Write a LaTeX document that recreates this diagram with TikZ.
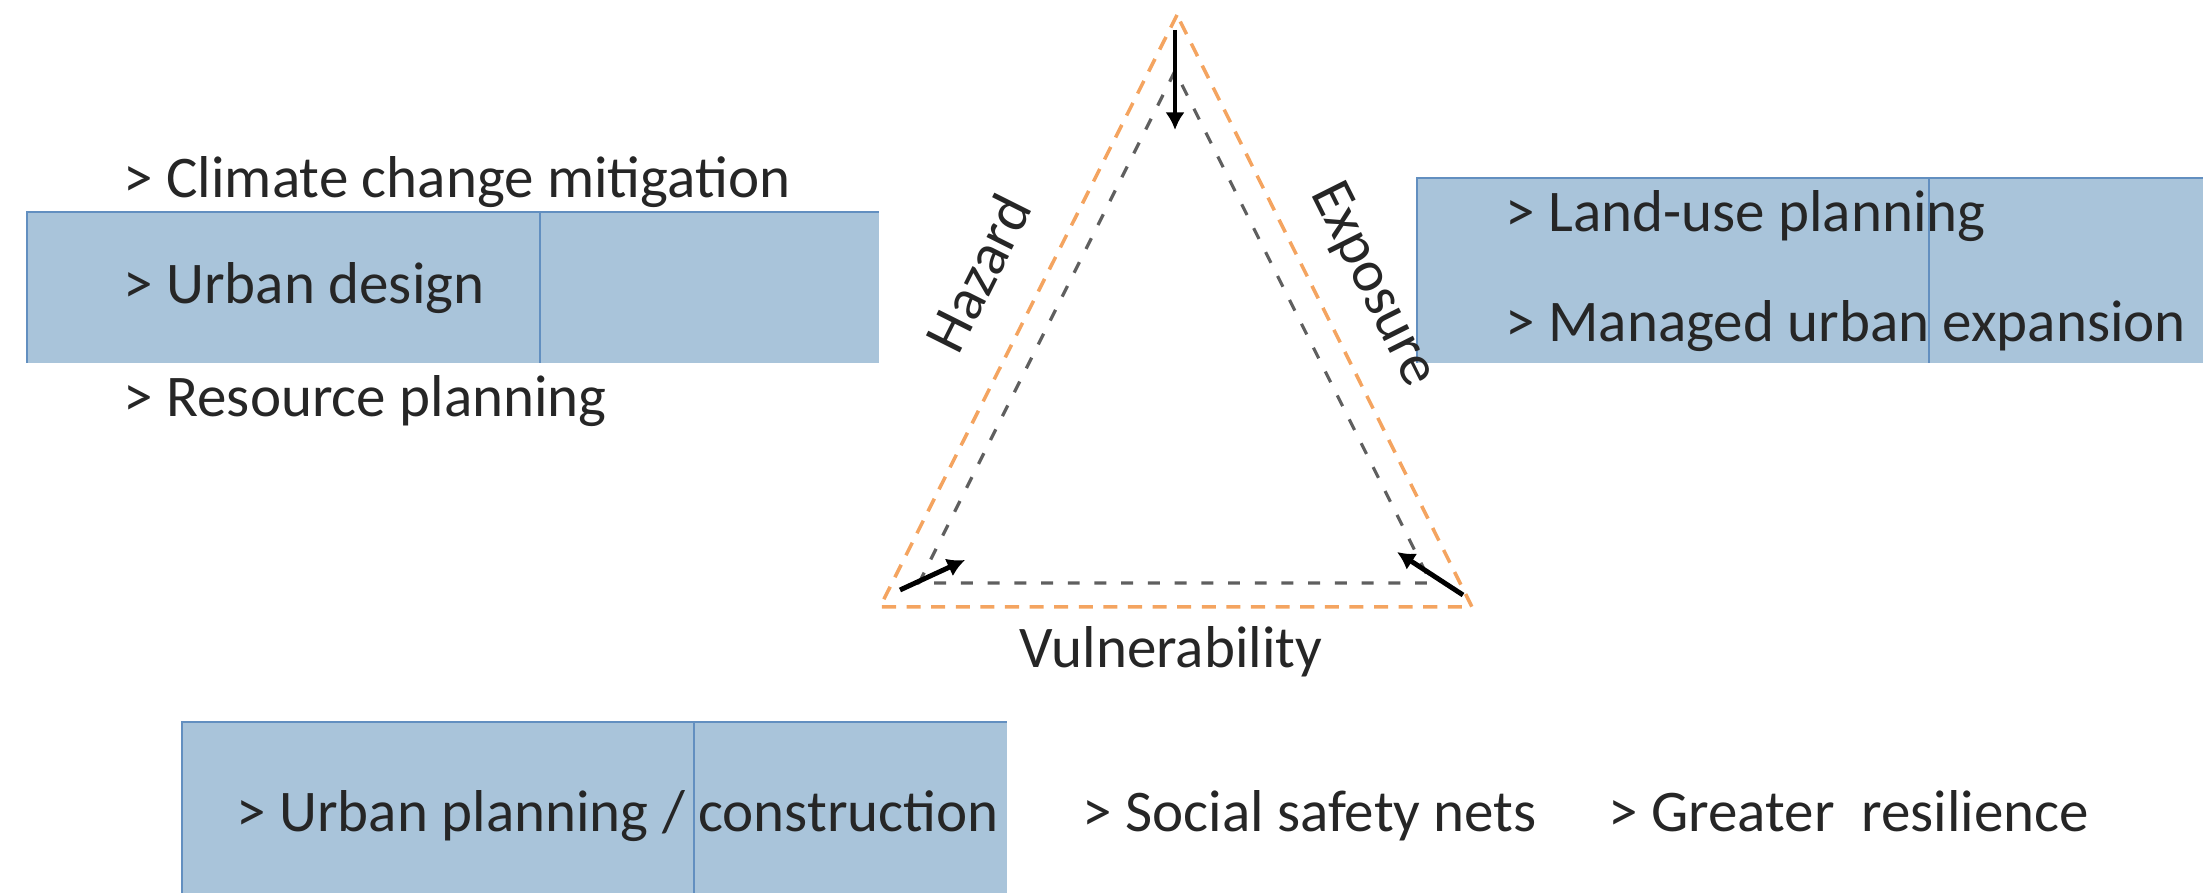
\documentclass[tikz,border=0pt]{standalone}
\usepackage{fontspec}
\setmainfont{Carlito}
\usetikzlibrary{arrows.meta}
\definecolor{boxblue}{RGB}{169,196,218}
\definecolor{edgeblue}{RGB}{98,143,192}
\definecolor{riskorange}{RGB}{244,164,96}
\definecolor{riskgray}{RGB}{95,95,95}

\begin{document}
\begin{tikzpicture}[
  > = {Latex[length=5pt, width=5.5pt]},
  thick arrow/.style = {->, line width=1.4pt},
  outer tri/.style = {riskorange, line width=1pt, dash pattern=on 4pt off 3pt},
  inner tri/.style = {riskgray, line width=0.9pt, dash pattern=on 3.4pt off 4.2pt},
  item/.style = {anchor=base west, inner sep=0pt, text=black!85, font=\fontsize{16.8}{20}\selectfont},
  side/.style = {inner sep=0pt, text=black!85, font=\fontsize{16.8}{20}\selectfont}
]
  \useasboundingbox (0,0) rectangle (22.03,8.93);

  % blue panels
  \fill[boxblue] (0.27,5.30) rectangle (8.79,6.81);
  \draw[edgeblue, line width=0.6pt] (0.27,5.30) -- (0.27,6.81) -- (8.79,6.81);
  \draw[edgeblue, line width=0.4pt] (5.40,5.30) -- (5.40,6.81);

  \fill[boxblue] (14.17,5.30) rectangle (22.03,7.15);
  \draw[edgeblue, line width=0.6pt] (14.17,5.30) -- (14.17,7.15) -- (22.03,7.15);
  \draw[edgeblue, line width=0.4pt] (19.29,5.30) -- (19.29,7.15);

  \fill[boxblue] (1.82,0) rectangle (10.07,1.71);
  \draw[edgeblue, line width=0.6pt] (1.82,0) -- (1.82,1.71) -- (10.07,1.71);
  \draw[edgeblue, line width=0.4pt] (6.94,0) -- (6.94,1.71);

  % triangle
  \coordinate (otop) at (11.77,8.78);
  \coordinate (oleft) at (8.80,2.86);
  \coordinate (oright) at (14.72,2.86);
  \coordinate (itop) at (11.75,8.22);
  \coordinate (ileft) at (9.19,3.10);
  \coordinate (iright) at (14.31,3.10);
  \draw[outer tri] (otop) -- (oleft) -- (oright) -- cycle;
  \draw[inner tri] (itop) -- (ileft) -- (iright) -- cycle;

  \coordinate (hz0) at (11.75,8.63);
  \coordinate (hz1) at (11.75,7.63);
  \coordinate (vl0) at (9.00,3.03);
  \coordinate (vl1) at (9.65,3.33);
  \coordinate (ex0) at (14.63,2.98);
  \coordinate (ex1) at (13.97,3.41);
  \draw[thick arrow] (hz0) -- (hz1);
  \draw[thick arrow] (vl0) -- (vl1);
  \draw[thick arrow] (ex0) -- (ex1);

  \node[side, rotate=63.4] (hazard) at (9.78,6.20) {Hazard};
  \node[side, rotate=-63.4] (exposure) at (13.72,6.08) {Exposure};
  \node[side, anchor=base] (vuln) at (11.71,2.25) {Vulnerability};

  % measures
  \node[item] (climate) at (1.23,6.95) {> Climate change mitigation};
  \node[item] (design) at (1.23,5.89) {> Urban design};
  \node[item] (resource) at (1.23,4.76) {> Resource planning};
  \node[item] (landuse) at (15.05,6.61) {> Land-use planning};
  \node[item] (expansion) at (15.05,5.51) {> Managed urban expansion};
  \node[item] (construct) at (2.36,0.61) {> Urban planning / construction};
  \node[item] (safety) at (10.82,0.61) {> Social safety nets};
  \node[item] (resilience) at (16.08,0.61) {> Greater\ \ resilience};
\end{tikzpicture}
\end{document}
